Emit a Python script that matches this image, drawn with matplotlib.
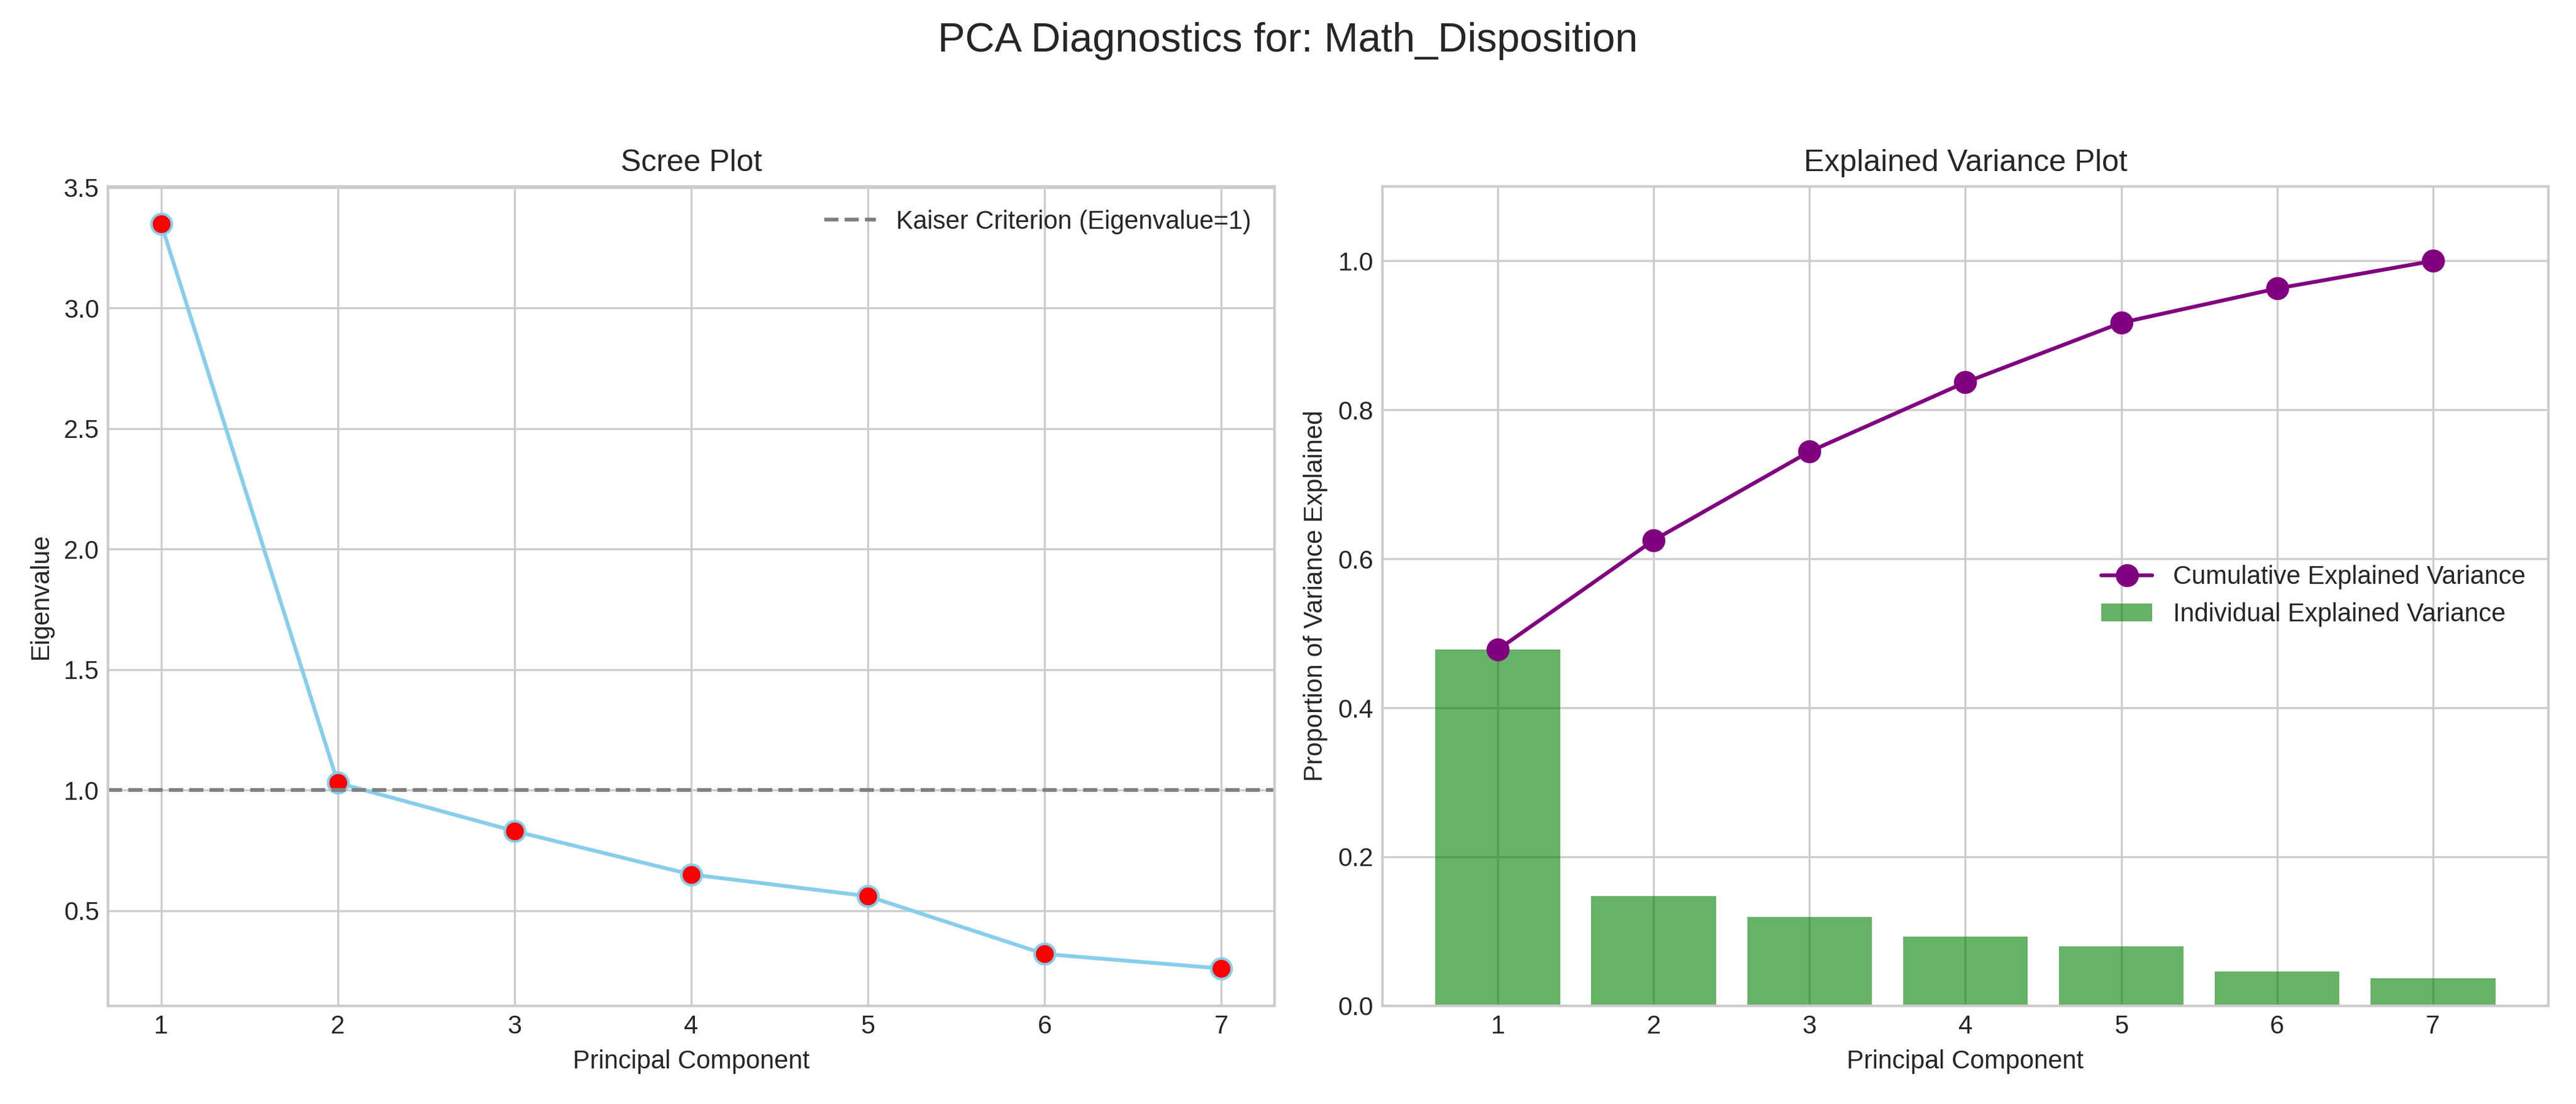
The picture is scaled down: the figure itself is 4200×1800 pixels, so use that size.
import numpy as np
import matplotlib
matplotlib.use("Agg")
import matplotlib.pyplot as plt

components = [1, 2, 3, 4, 5, 6, 7]
eigenvalues = [3.35, 1.03, 0.83, 0.65, 0.56, 0.32, 0.26]
individual_var = [0.478, 0.147, 0.119, 0.093, 0.080, 0.046, 0.037]
cumulative_var = [0.478, 0.625, 0.744, 0.837, 0.917, 0.963, 1.000]

plt.style.use("seaborn-v0_8-whitegrid")
fig, (ax1, ax2) = plt.subplots(1, 2, figsize=(14, 6))

# scree
ax1.plot(components, eigenvalues, "o-", color="skyblue",
         markerfacecolor="red", markersize=8)
ax1.axhline(1, ls="--", color="gray", label="Kaiser Criterion (Eigenvalue=1)")
ax1.set_title("Scree Plot")
ax1.set_xlabel("Principal Component")
ax1.set_ylabel("Eigenvalue")
ax1.set_xticks(components)
ax1.legend(loc="upper right")

# explained variance
ax2.bar(components, individual_var, alpha=0.6, color="green",
        label="Individual Explained Variance")
ax2.plot(components, cumulative_var, "o-", color="purple", markersize=8,
         label="Cumulative Explained Variance")
ax2.set_title("Explained Variance Plot")
ax2.set_xlabel("Principal Component")
ax2.set_ylabel("Proportion of Variance Explained")
ax2.set_xticks(components)
ax2.set_ylim(0, 1.1)
ax2.legend(loc="center right")

fig.suptitle("PCA Diagnostics for: Math_Disposition", fontsize=16)
fig.tight_layout(rect=[0, 0, 1, 0.95])
fig.savefig("out.png", dpi=300)
